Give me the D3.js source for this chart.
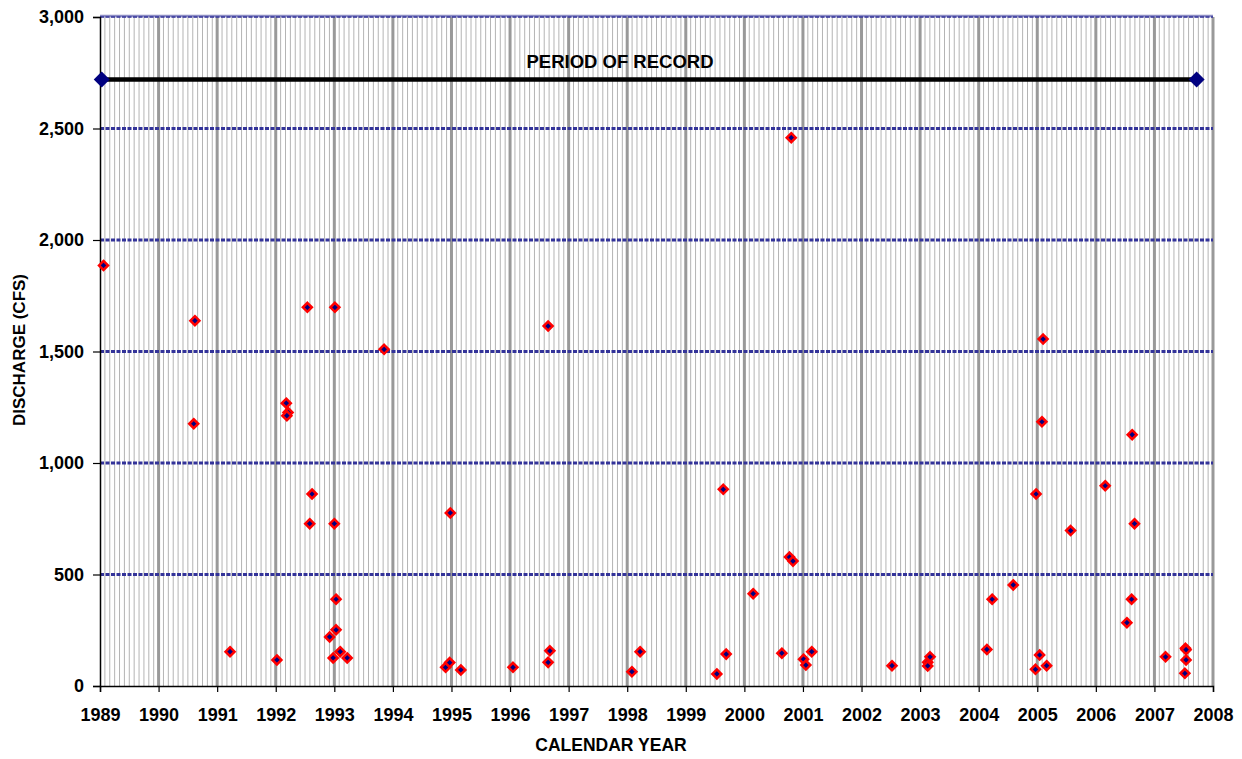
<!DOCTYPE html>
<html>
<head>
<meta charset="utf-8">
<script src="https://cdn.jsdelivr.net/npm/d3@7"></script>
<style>
  html, body { margin: 0; padding: 0; background: #ffffff; }
  svg { display: block; }
  text { font-family: "Liberation Sans", Arial, sans-serif; font-weight: bold; fill: #000; }
</style>
</head>
<body>
<svg id="chart" width="1242" height="759"></svg>
<script>
// ---- data ----
const sampleYears = [
  1989.06, 1990.62, 1990.60, 1991.22, 1992.02, 1992.18, 1992.21, 1992.19, 1992.54, 1992.62,
  1992.58, 1992.92, 1992.98, 1993.01, 1993.00, 1993.03, 1993.03, 1993.10, 1993.22, 1993.85,
  1994.90, 1994.97, 1994.98, 1995.16, 1996.05, 1996.65, 1996.68, 1996.65, 1998.08, 1998.22,
  1999.53, 1999.64, 1999.69, 2000.15, 2000.64, 2000.77, 2000.83, 2000.80, 2001.01, 2001.05,
  2001.15, 2002.52, 2003.13, 2003.13, 2003.17, 2004.14, 2004.23, 2004.59, 2004.97, 2004.98,
  2005.04, 2005.08, 2005.10, 2005.16, 2005.57, 2006.16, 2006.53, 2006.61, 2006.62, 2006.66,
  2007.19, 2007.52, 2007.53, 2007.54, 2007.54
];
const sampleDischarge = [
  1886, 1638, 1176, 154, 117, 1268, 1227, 1212, 1698, 861,
  728, 220, 126, 1698, 728, 389, 252, 154, 126, 1510,
  84, 105, 776, 72, 84, 106, 158, 1614, 64, 154,
  54, 882, 143, 414, 147, 578, 560, 2459, 120, 94,
  154, 91, 106, 90, 131, 164, 389, 453, 75, 861,
  139, 1185, 1556, 91, 697, 898, 284, 389, 1127, 728,
  131, 57, 169, 163, 117
];
const periodYears = [1989.03, 2007.72];
const periodDischarge = [2720, 2720];
const periodLabel = "PERIOD OF RECORD";
const yearTicks = d3.range(1989, 2009);
const dischargeTicks = [0, 500, 1000, 1500, 2000, 2500, 3000];
const xTitle = "CALENDAR YEAR";
const yTitle = "DISCHARGE (CFS)";

// ---- layout ----
const svg = d3.select("#chart");
const plotLeft = 100, plotRight = 1213, plotTop = 17, plotBottom = 686;
const x = d3.scaleLinear().domain([1989, 2008]).range([plotLeft, plotRight]);
const y = d3.scaleLinear().domain([0, 3000]).range([plotBottom, plotTop]);

const grid = svg.append("g");

// minor monthly gridlines
const monthTicks = [];
yearTicks.slice(0, -1).forEach(yr => { for (let m = 1; m < 12; m++) monthTicks.push(yr + m / 12); });
grid.selectAll("line.minor").data(monthTicks).join("line")
  .attr("class", "minor")
  .attr("x1", d => x(d)).attr("x2", d => x(d))
  .attr("y1", plotTop).attr("y2", plotBottom)
  .attr("stroke", "#b4b4b4").attr("stroke-width", 1);

// major yearly gridlines
grid.selectAll("line.major").data(yearTicks.slice(1)).join("line")
  .attr("class", "major")
  .attr("x1", d => x(d)).attr("x2", d => x(d))
  .attr("y1", plotTop).attr("y2", plotBottom)
  .attr("stroke", "#999999").attr("stroke-width", 3);

// top border
grid.append("line")
  .attr("x1", plotLeft).attr("x2", plotRight).attr("y1", y(3000) - 1).attr("y2", y(3000) - 1)
  .attr("stroke", "#8c8cc4").attr("stroke-width", 2.5);

// horizontal dashed gridlines
grid.selectAll("line.hgrid").data(dischargeTicks.slice(1)).join("line")
  .attr("class", "hgrid")
  .attr("x1", plotLeft).attr("x2", plotRight)
  .attr("y1", d => y(d)).attr("y2", d => y(d))
  .attr("stroke", "#333399").attr("stroke-width", d => d === 3000 ? 1.5 : 3)
  .attr("stroke-dasharray", "4,1.5");

// axes
const tickFont = "18px";
const yAxis = d3.axisLeft(y).tickValues(dischargeTicks).tickFormat(d3.format(",")).tickSize(7).tickPadding(9);
const gy = svg.append("g").attr("transform", `translate(${plotLeft},0)`).call(yAxis);
gy.select(".domain").attr("stroke", "#000").attr("stroke-width", 1.5);
gy.selectAll(".tick line").attr("stroke", "#000").attr("stroke-width", 1.2);
gy.selectAll(".tick text").style("font-size", tickFont).style("font-family", "'Liberation Sans', Arial, sans-serif").style("font-weight", "bold").attr("fill", "#000");

const xAxis = d3.axisBottom(x).tickValues(yearTicks).tickFormat(d3.format("d")).tickSize(6).tickPadding(16);
const gx = svg.append("g").attr("transform", `translate(0,${plotBottom})`).call(xAxis);
gx.select(".domain").attr("stroke", "#000").attr("stroke-width", 1.5);
gx.selectAll(".tick line").attr("stroke", "#000").attr("stroke-width", 1.2);
gx.selectAll(".tick text").style("font-size", tickFont).style("font-family", "'Liberation Sans', Arial, sans-serif").style("font-weight", "bold").attr("fill", "#000");

// axis titles
svg.append("text").attr("x", 611).attr("y", 751).attr("text-anchor", "middle")
  .style("font-size", "17.5px").text(xTitle);
svg.append("text").attr("transform", "translate(25,350) rotate(-90)").attr("text-anchor", "middle")
  .style("font-size", "17px").text(yTitle);

// period of record
const periodPts = periodYears.map((d, i) => [x(d), y(periodDischarge[i])]);
svg.append("path").attr("d", d3.line()(periodPts))
  .attr("stroke", "#000").attr("stroke-width", 4.5).attr("fill", "none");
const diamondPath = r => `M0,${-r}L${r},0L0,${r}L${-r},0Z`;
svg.selectAll("path.pmark").data(periodPts).join("path")
  .attr("class", "pmark")
  .attr("transform", d => `translate(${d[0]},${d[1]})`)
  .attr("d", diamondPath(8)).attr("fill", "#000080");
svg.append("text").attr("x", 620).attr("y", 68).attr("text-anchor", "middle")
  .style("font-size", "18.5px").text(periodLabel);

// samples
svg.selectAll("path.pt").data(sampleYears.map((d, i) => [d, sampleDischarge[i]])).join("path")
  .attr("class", "pt")
  .attr("transform", d => `translate(${x(d[0])},${y(d[1])})`)
  .attr("d", diamondPath(4.5))
  .attr("fill", "#000080").attr("stroke", "#ff0000").attr("stroke-width", 2.5);
</script>
</body>
</html>
